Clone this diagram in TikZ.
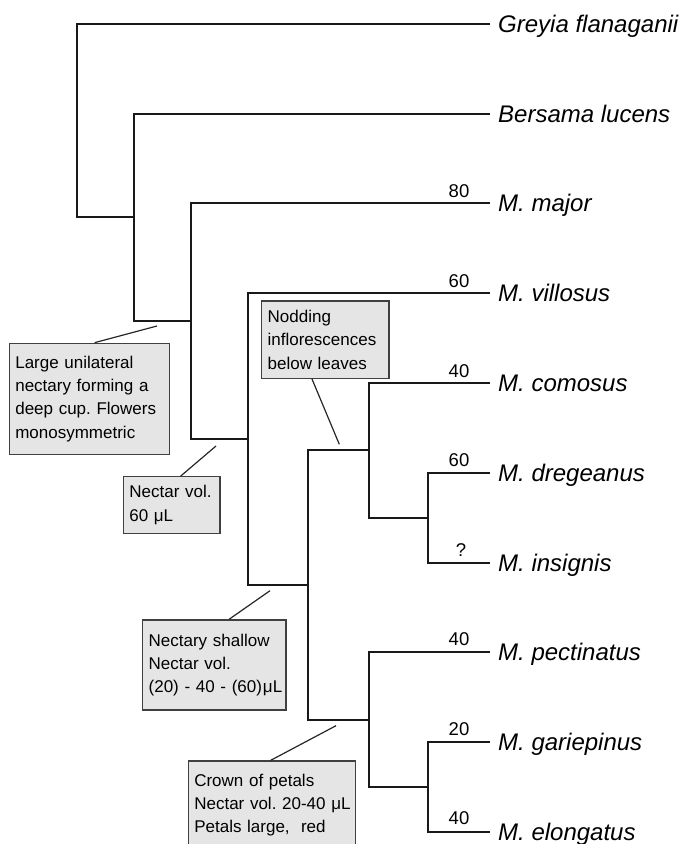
\documentclass[tikz,border=0pt]{standalone}
\usepackage{fontspec}
\setmainfont{Liberation Sans}

\begin{document}
\begin{tikzpicture}[x=1pt, y=-1pt,
  branch/.style={line width=2.3pt, draw=black!90},
  taxon/.style={anchor=west, inner xsep=8pt, inner ysep=0pt, text height=17.2pt, text depth=0pt, font=\fontsize{24}{28}\selectfont\itshape},
  score/.style={inner sep=0pt, font=\fontsize{18.5}{22}\selectfont},
  note/.style={draw=black!75, line width=1.3pt, fill=black!10, align=left, inner xsep=6pt, inner ysep=0pt, font=\fontsize{17}{23.3}\selectfont\frenchspacing},
  pointer/.style={line width=1.2pt, draw=black!85}]
\useasboundingbox (0,0) rectangle (683,844);
\clip (0,0) rectangle (683,844);

% inner nodes of the tree
\coordinate (root) at (77,120.5);
\coordinate (n2) at (134,217);
\coordinate (n3) at (191,321);
\coordinate (n4) at (248,439);
\coordinate (n5) at (308,585);
\coordinate (n6) at (369,450);
\coordinate (n7) at (428,518);
\coordinate (n8) at (369,720);
\coordinate (n9) at (428,787);

% taxa
\node[taxon] (greyia) at (490,24) {Greyia flanaganii};
\node[taxon] (bersama) at (490,114) {Bersama lucens};
\node[taxon] (major) at (490,203) {M. major};
\node[taxon] (villosus) at (490,293) {M. villosus};
\node[taxon] (comosus) at (490,383) {M. comosus};
\node[taxon] (dregeanus) at (490,473) {M. dregeanus};
\node[taxon] (insignis) at (490,563) {M. insignis};
\node[taxon] (pectinatus) at (490,652) {M. pectinatus};
\node[taxon] (gariepinus) at (490,742) {M. gariepinus};
\node[taxon] (elongatus) at (490,832) {M. elongatus};

\draw[branch] (greyia.west) -| (root) |- (n2);
\draw[branch] (bersama.west) -| (n2) |- (n3);
\draw[branch] (major.west) -| (n3) |- (n4);
\draw[branch] (villosus.west) -| (n4) |- (n5);
\draw[branch] (n6) -| (n5) |- (n8);
\draw[branch] (comosus.west) -| (n6) |- (n7);
\draw[branch] (dregeanus.west) -| (n7) |- (insignis.west);
\draw[branch] (pectinatus.west) -| (n8) |- (n9);
\draw[branch] (gariepinus.west) -| (n9) |- (elongatus.west);

% nectar volumes
\node[score] (s-major) at (459,191) {80};
\node[score] (s-villosus) at (459,281) {60};
\node[score] (s-comosus) at (459,371) {40};
\node[score] (s-dregeanus) at (459,460) {60};
\node[score] (s-insignis) at (461,550) {?};
\node[score] (s-pectinatus) at (459,639) {40};
\node[score] (s-gariepinus) at (459,729) {20};
\node[score] (s-elongatus) at (459,818) {40};

% character boxes
\node[note, text width=148pt, minimum height=111pt] (cup) at (89.3,398.8) {Large unilateral\\nectary forming a\\\mbox{deep cup. Flowers}\\monosymmetric};
\node[note, text width=84.7pt, minimum height=56.6pt] (vol60) at (171.7,505) {\mbox{Nectar vol.}\\60 μL};
\node[note, text width=115.3pt, minimum height=77.3pt] (nodding) at (325.3,339.7) {Nodding\\inflorescences\\below leaves};
\node[note, text width=131.3pt, minimum height=90pt] (shallow) at (214.3,665) {Nectary shallow\\Nectar vol.\\\mbox{(20) - 40 - (60)\kern1pt μL}};
\node[note, text width=155.4pt, minimum height=88pt] (crown) at (272,805) {Crown of petals\\\mbox{Nectar vol. 20-40 μL}\\\mbox{Petals large,~ red}};

\coordinate (p-cup) at (157,326);
\coordinate (p-vol60) at (216,446);
\coordinate (p-nodding) at (339.3,444.3);
\coordinate (p-shallow) at (270,590.7);
\coordinate (p-crown) at (336,725.7);
\draw[pointer] ([xshift=86pt]cup.north west) -- (p-cup);
\draw[pointer] ([xshift=58pt]vol60.north west) -- (p-vol60);
\draw[pointer] ([xshift=51pt]nodding.south west) -- (p-nodding);
\draw[pointer] ([xshift=87pt]shallow.north west) -- (p-shallow);
\draw[pointer] ([xshift=83pt]crown.north west) -- (p-crown);
\end{tikzpicture}
\end{document}
